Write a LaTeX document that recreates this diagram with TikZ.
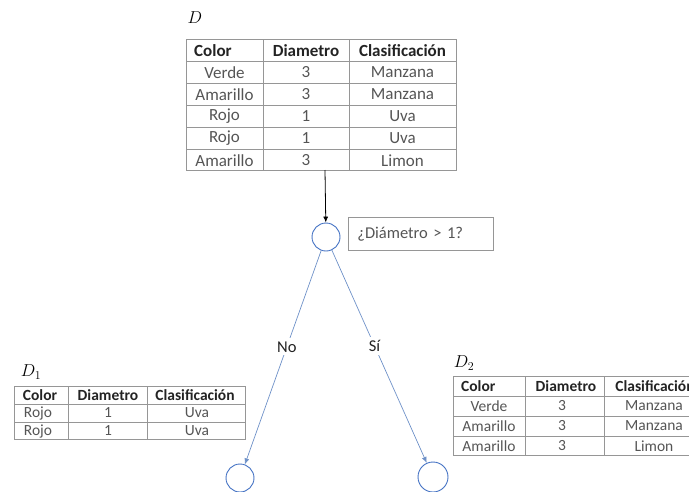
\documentclass[tikz,border=0pt]{standalone}
\usepackage{fontspec}
\setmainfont{Carlito}
\usetikzlibrary{arrows.meta}
\definecolor{gridgray}{RGB}{150,150,150}
\definecolor{hdrtext}{RGB}{35,35,35}
\definecolor{celltext}{RGB}{85,85,85}
\definecolor{nodeblue}{RGB}{68,114,196}
\definecolor{edgeblue}{RGB}{110,145,200}
\begin{document}
\begin{tikzpicture}[x=1pt,y=-1pt,
  grid/.style={draw=gridgray, line width=0.7pt},
  hdrA/.style={font=\fontsize{17}{19}\selectfont\bfseries, text=hdrtext, inner sep=0pt},
  cellA/.style={font=\fontsize{17}{19}\selectfont, text=celltext, inner sep=0pt},
  hdrB/.style={font=\fontsize{15.5}{17}\selectfont\bfseries, text=hdrtext, inner sep=0pt},
  cellB/.style={font=\fontsize{15.5}{17}\selectfont, text=celltext, inner sep=0pt},
  setname/.style={font=\fontsize{17}{19}\selectfont, inner sep=0pt},
  treenode/.style={circle, draw=nodeblue, line width=0.9pt, fill=white, inner sep=0pt},
  edge/.style={draw=edgeblue, line width=0.7pt, -{Latex[length=6pt,width=5pt]}},
  branchlbl/.style={fill=white, font=\fontsize{16.5}{18}\selectfont, text=hdrtext, inner sep=3pt},
  question/.style={draw=gridgray, line width=0.8pt, minimum width=145pt, minimum height=33pt,
    text width=127pt, align=left, inner xsep=9pt, font=\fontsize{16.5}{18}\selectfont, text=celltext}
]
\useasboundingbox (0,0) rectangle (689,491);

% ---- full data set D ----
\node[setname] (lblD) at (195,18) {$D$};
\draw[grid] (186,39) rectangle (456,170);
\foreach \x in {263,349} \draw[grid] (\x,39) -- (\x,170);
\foreach \y in {61,83,105,127,149} \draw[grid] (186,\y) -- (456,\y);
\node[hdrA, anchor=west] (dh1) at (194,50.5) {Color};
\node[hdrA] (dh2) at (306,50.5) {Diametro};
\node[hdrA] (dh3) at (402.5,50.5) {Clasificación};
\foreach \c/\d/\k [count=\i] in {Verde/3/Manzana, Amarillo/3/Manzana, Rojo/1/Uva, Rojo/1/Uva, Amarillo/3/Limon} {
  \node[cellA] (d\i a) at (224.5,50.5+22*\i) {\c};
  \node[cellA] (d\i b) at (306,50.5+22*\i) {\d};
  \node[cellA] (d\i c) at (402.5,50.5+22*\i) {\k};
}
\coordinate (dbottom) at (325,170);

% ---- root split ----
\node[treenode, minimum size=28pt] (root) at (326,237) {};
\node[question, anchor=north west] (q) at (348,217) {¿Diámetro > 1?};
\draw[line width=0.8pt, -{Latex[length=6pt,width=5pt]}] (dbottom) -- (root);

% ---- leaves ----
\node[treenode, minimum size=28pt] (left) at (240,478) {};
\node[treenode, minimum size=30pt] (right) at (433,477) {};
\draw[edge] (root) -- node[branchlbl, pos=0.45] (no) {No} (left);
\draw[edge] (root) -- node[branchlbl, pos=0.45] (si) {Sí} (right);

% ---- subset D1 ----
\node[setname] (lblD1) at (31,372) {$D_1$};
\draw[grid] (14,386) rectangle (245,439);
\foreach \x in {68,147} \draw[grid] (\x,386) -- (\x,439);
\foreach \y in {404,422} \draw[grid] (14,\y) -- (245,\y);
\node[hdrB] (ah1) at (40,395) {Color};
\node[hdrB] (ah2) at (108,395) {Diametro};
\node[hdrB] (ah3) at (195,395) {Clasificación};
\foreach \c/\d/\k [count=\i] in {Rojo/1/Uva, Rojo/1/Uva} {
  \node[cellB] (a\i a) at (38,395+18*\i) {\c};
  \node[cellB] (a\i b) at (108,395+18*\i) {\d};
  \node[cellB] (a\i c) at (197,395+18*\i) {\k};
}

% ---- subset D2 ----
\node[setname] (lblD2) at (464,363) {$D_2$};
\draw[grid] (453,376) rectangle (705,455);
\foreach \x in {525,604} \draw[grid] (\x,376) -- (\x,455);
\foreach \y in {396,416,436} \draw[grid] (453,\y) -- (705,\y);
\node[hdrB, anchor=west] (bh1) at (461,386) {Color};
\node[hdrB] (bh2) at (566,386) {Diametro};
\node[hdrB] (bh3) at (655,386) {Clasificación};
\foreach \c/\d/\k [count=\i] in {Verde/3/Manzana, Amarillo/3/Manzana, Amarillo/3/Limon} {
  \node[cellB] (b\i a) at (489,386+20*\i) {\c};
  \node[cellB] (b\i b) at (562,386+20*\i) {\d};
  \node[cellB] (b\i c) at (654,386+20*\i) {\k};
}
\end{tikzpicture}
\end{document}
